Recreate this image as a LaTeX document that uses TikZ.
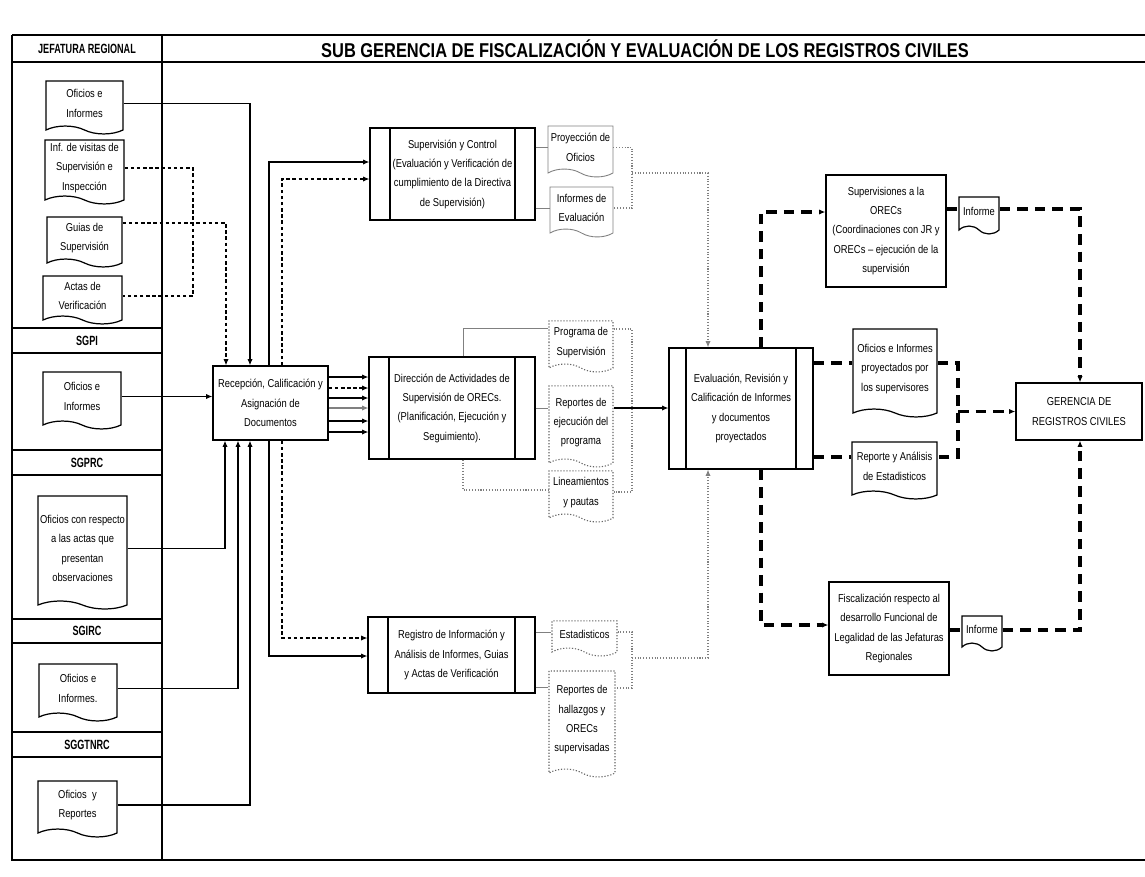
\documentclass[tikz,border=0pt]{standalone}
\usepackage{fontspec}
\setmainfont{Liberation Sans}[FakeStretch=0.82]
\newfontfamily\angosta{Liberation Sans}[FakeStretch=0.68]
\usetikzlibrary{arrows.meta,shapes.symbols}

\begin{document}
\begin{tikzpicture}[
  x=0.02cm, y=-0.02cm,
  >={Latex[length=3.5pt,width=3pt]},
  every node/.style={font=\fontsize{6.5}{11}\selectfont, align=center, inner sep=1pt},
  marco/.style={line width=0.7pt},
  caja/.style={draw, line width=0.8pt},
  proc/.style={caja, path picture={
      \draw[line width=0.6pt] ([xshift=#1]path picture bounding box.north west) -- ([xshift=#1]path picture bounding box.south west)
        ([xshift=-#1]path picture bounding box.north east) -- ([xshift=-#1]path picture bounding box.south east);}},
  proc/.default=4mm,
  doc/.style={tape, tape bend top=none, tape bend bottom=out and in, tape bend height=4.5pt, draw, line width=0.7pt},
  docg/.style={doc, draw=gray, line width=0.5pt},
  docp/.style={doc, draw=gray!80!black, densely dotted, line width=0.6pt},
  flecha/.style={->, line width=0.6pt},
  flechad/.style={->, line width=0.6pt, dash pattern=on 2pt off 1.5pt},
  trazo/.style={line width=0.6pt, dash pattern=on 2pt off 1.5pt},
  linea/.style={gray, line width=0.5pt},
  salida/.style={gray, densely dotted, line width=0.6pt},
  gruesa/.style={line width=2pt, dash pattern=on 6pt off 4pt}
]
\fill[white] (0,0) rectangle (1145,876);
\useasboundingbox (0,0) rectangle (1145,876);

\draw[marco] (12,35) -- (1145,35) (12,62) -- (1145,62) (12,35) -- (12,860) -- (1145,860) (162,35) -- (162,860);
\foreach \y in {328,353,450,475,619,643,732,757}
  \draw[marco] (12,\y) -- (162,\y);

\node[font=\angosta\bfseries\fontsize{7.6}{9}\selectfont] (hJR) at (87,48.5) {JEFATURA REGIONAL};
\node[font=\angosta\bfseries\fontsize{7.6}{9}\selectfont] (hSGPI) at (87,340.5) {SGPI};
\node[font=\angosta\bfseries\fontsize{7.6}{9}\selectfont] (hSGPRC) at (87,462.5) {SGPRC};
\node[font=\angosta\bfseries\fontsize{7.6}{9}\selectfont] (hSGIRC) at (87,631) {SGIRC};
\node[font=\angosta\bfseries\fontsize{7.6}{9}\selectfont] (hSGGT) at (87,744.5) {SGGTNRC};
\node[font=\bfseries\fontsize{11.4}{13}\selectfont] (titulo) at (645,49) {SUB GERENCIA DE FISCALIZACIÓN Y EVALUACIÓN DE LOS REGISTROS CIVILES};

\node[doc, minimum width=1.54cm, minimum height=1.06cm] (jrOfi) at (84.5,103.5) {Oficios e\\Informes};
\node[doc, minimum width=1.58cm, minimum height=1.28cm] (jrInf) at (84.5,168) {Inf. de visitas de\\Supervisión e\\Inspección};
\node[doc, minimum width=1.5cm, minimum height=1.0cm] (jrGuia) at (84.5,238) {Guias de\\Supervisión};
\node[doc, minimum width=1.58cm, minimum height=0.96cm] (jrActa) at (82.5,296) {Actas de\\Verificación};
\node[doc, minimum width=1.56cm, minimum height=1.14cm] (sgpiOfi) at (82,396.5) {Oficios e\\Informes};
\node[doc, minimum width=1.78cm, minimum height=2.26cm] (sgprcOfi) at (82.5,548.5) {Oficios con respecto\\a las actas que\\presentan\\observaciones};
\node[doc, minimum width=1.56cm, minimum height=1.14cm] (sgircOfi) at (78,688.5) {Oficios e\\Informes.};
\node[doc, minimum width=1.58cm, minimum height=1.12cm] (sggtOfi) at (77.5,805) {Oficios\ \ y\\Reportes};

\node[caja, minimum width=2.3cm, minimum height=1.48cm] (recep) at (270.5,403) {Recepción, Calificación y\\Asignación de\\Documentos};
\node[proc, minimum width=3.3cm, minimum height=1.84cm] (supCtrl) at (452.5,174) {Supervisión y Control\\(Evaluación y Verificación de\\cumplimiento de la Directiva\\de Supervisión)};
\node[proc, minimum width=3.32cm, minimum height=2.04cm] (direcc) at (452,408) {Dirección de Actividades de\\Supervisión de ORECs.\\(Planificación, Ejecución y\\Seguimiento).};
\node[proc, minimum width=3.34cm, minimum height=1.52cm] (registro) at (451.5,655) {Registro de Información y\\Análisis de Informes, Guias\\y Actas de Verificación};

\node[docg, minimum width=1.3cm, minimum height=1.02cm] (proyOfi) at (580.5,147.5) {Proyección de\\Oficios};
\node[docg, minimum width=1.26cm, minimum height=1.0cm] (infEval) at (581.5,208) {Informes de\\Evaluación};
\node[docp, minimum width=1.28cm, minimum height=1.02cm] (progSup) at (581,342.5) {Programa de\\Supervisión};
\node[docp, minimum width=1.28cm, minimum height=1.62cm] (repEjec) at (581,422.5) {Reportes de\\ejecución del\\programa};
\node[docp, minimum width=1.28cm, minimum height=1.02cm] (lineam) at (581,492.5) {Lineamientos\\y pautas};
\node[docp, minimum width=1.3cm, minimum height=0.7cm] (estad) at (584.5,634.5) {Estadisticos};
\node[docp, minimum width=1.32cm, minimum height=2.12cm] (repHall) at (582,720) {Reportes de\\hallazgos y\\ORECs\\supervisadas};

\node[proc=3.4mm, minimum width=2.88cm, minimum height=2.42cm] (evalu) at (741,408.5) {Evaluación, Revisión y\\Calificación de Informes\\y documentos\\proyectados};
\node[caja, minimum width=2.4cm, minimum height=2.24cm] (supOrec) at (886,231) {Supervisiones a la\\ORECs\\(Coordinaciones con JR y\\ORECs – ejecución de la\\supervisión};
\node[caja, minimum width=2.4cm, minimum height=1.86cm] (fiscal) at (889,628.5) {Fiscalización respecto al\\desarrollo Funcional de\\Legalidad de las Jefaturas\\Regionales};
\node[caja, minimum width=2.52cm, minimum height=1.14cm] (gerencia) at (1079,411.5) {GERENCIA DE\\REGISTROS CIVILES};

\node[doc, minimum width=0.8cm, minimum height=0.74cm] (inf1) at (979,211.5) {Informe};
\node[doc, minimum width=1.68cm, minimum height=1.76cm] (ofiProy) at (895,369) {Oficios e Informes\\proyectados por\\los supervisores};
\node[doc, minimum width=1.7cm, minimum height=1.14cm] (repAnal) at (894.5,466.5) {Reporte y Análisis\\de Estadisticos};
\node[doc, minimum width=0.8cm, minimum height=0.7cm] (inf2) at (982,629.5) {Informe};

\coordinate (uJR) at (193,0);
\coordinate (bS) at (632,0);
\coordinate (bG) at (958,0);

\draw[flecha] (jrOfi.east) -| (recep.north -| 250,0);
\draw[trazo] (jrInf.east) -| (uJR |- jrActa.east) -- (jrActa.east);
\draw[flechad] ([yshift=0.3cm]jrGuia.east) -| (recep.north -| 226,0);
\draw[flecha] (sgpiOfi.east) -- (recep.west |- sgpiOfi.east);
\draw[flecha] (sgprcOfi.east) -| (recep.south -| 225,0);
\draw[flecha] (sgircOfi.east) -| (recep.south -| 238,0);
\draw[flecha] (sggtOfi.east) -| (recep.south -| 250,0);

\draw[flecha] (recep.north -| 269,0) |- (supCtrl.west |- 0,162);
\draw[flechad] (recep.north -| 282,0) |- (supCtrl.west |- 0,179);
\draw[flecha] (recep.south -| 269,0) |- (registro.west |- 0,656);
\draw[flechad] (recep.south -| 282,0) |- (registro.west |- 0,638);
\foreach \y/\s in {377/flecha, 388/flechad, 398/flecha, 421/flecha, 432/flecha}
  \draw[\s] (recep.east |- 0,\y) -- (direcc.west |- 0,\y);
\draw[flecha, gray] (recep.east |- 0,408) -- (direcc.west |- 0,408);

\draw[linea] (supCtrl.east |- proyOfi.west) -- (proyOfi.west);
\draw[linea] (supCtrl.east |- infEval.west) -- (infEval.west);
\draw[salida] (proyOfi.east) -| (bS |- infEval.east) -- (infEval.east);
\draw[salida, ->] (bS |- 0,173) -| (evalu.north -| 708,0);

\draw[linea] (direcc.north -| 463,0) |- (progSup.west |- 0,328);
\draw[linea] (direcc.east) -- (direcc.east -| repEjec.west);
\draw[salida] (direcc.south -| 463,0) |- (lineam.west |- 0,490);
\draw[salida] (progSup.east |- 0,329) -| (bS |- 0,492) -- (lineam.east |- 0,492);
\draw[flecha] (repEjec.east |- direcc.east) -- (evalu.west |- direcc.east);

\draw[linea] (registro.east |- 0,632) -- (estad.west |- 0,632);
\draw[linea] (registro.east |- 0,687) -- (repHall.west |- 0,687);
\draw[salida] (estad.east |- 0,632) -| (bS |- 0,688) -- (repHall.east |- 0,688);
\draw[salida, ->] (bS |- 0,658) -| (evalu.south -| 708,0);

\draw[gruesa, ->] (evalu.north -| 761,0) |- (supOrec.west |- 0,212);
\draw[gruesa] (supOrec.east |- 0,209) -- (inf1.west |- 0,209);
\draw[gruesa, ->] (inf1.east |- 0,209) -| (gerencia.north -| 1080,0);
\draw[gruesa] (evalu.east |- 0,363) -- (ofiProy.west |- 0,363);
\draw[gruesa] (evalu.east |- 0,457) -- (repAnal.west |- 0,457);
\draw[gruesa] (ofiProy.east |- 0,363) -| (bG |- 0,457) -- (repAnal.east |- 0,457);
\draw[gruesa, ->] (bG |- gerencia.west) -- (gerencia.west);
\draw[gruesa, ->] (evalu.south -| 761,0) |- (fiscal.west |- 0,625);
\draw[gruesa] (fiscal.east |- 0,630) -- (inf2.west |- 0,630);
\draw[gruesa, ->] (inf2.east |- 0,630) -| (gerencia.south -| 1080,0);
\end{tikzpicture}
\end{document}
